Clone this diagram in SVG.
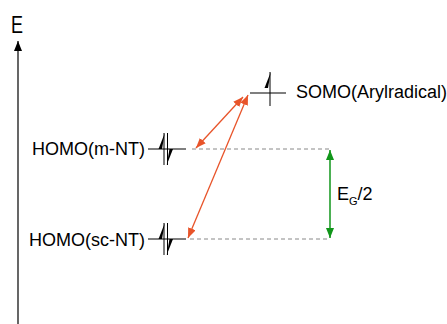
<svg xmlns="http://www.w3.org/2000/svg" width="447" height="324" viewBox="0 0 447 324">
<style>
text{font-family:"Liberation Sans",Arial,sans-serif;fill:#000;font-size:18px}
.lvl{stroke:#000;stroke-width:1.2;fill:none}
.spin{stroke:#000;stroke-width:1;fill:none}
.dash{stroke:#888;stroke-width:1;stroke-dasharray:4,3;fill:none}
.red{stroke:#E8542A;stroke-width:1.3;fill:none}
.grn{stroke:#11961A;stroke-width:1.5;fill:none}
</style>
<defs>
<marker id="ra" viewBox="0 0 10 8" refX="10" refY="4" markerWidth="10" markerHeight="8" markerUnits="userSpaceOnUse" orient="auto-start-reverse"><path d="M0,0 L10,4 L0,8 z" fill="#E8542A"/></marker>
<marker id="ga" viewBox="0 0 10 8" refX="10" refY="4" markerWidth="10" markerHeight="8" markerUnits="userSpaceOnUse" orient="auto-start-reverse"><path d="M0,0 L10,4 L0,8 z" fill="#11961A"/></marker>
<marker id="ka" viewBox="0 0 10 8" refX="10" refY="4" markerWidth="10" markerHeight="8" markerUnits="userSpaceOnUse" orient="auto"><path d="M0,0 L10,4 L0,8 z" fill="#000"/></marker>
</defs>
<g id="axis">
<line x1="18" y1="324" x2="18" y2="41" stroke="#000" stroke-width="1.2" marker-end="url(#ka)"/>
<text transform="translate(11,33) scale(1,1.3)" font-size="18">E</text>
</g>
<g id="connectors">
<line class="dash" x1="192" y1="149" x2="330" y2="149"/>
<line class="dash" x1="190" y1="239" x2="330" y2="239"/>
<line class="red" x1="196" y1="148" x2="243" y2="97" marker-start="url(#ra)" marker-end="url(#ra)"/>
<line class="red" x1="188" y1="238" x2="248" y2="95" marker-start="url(#ra)" marker-end="url(#ra)"/>
<line class="grn" x1="330" y1="150" x2="330" y2="238" marker-start="url(#ga)" marker-end="url(#ga)"/>
</g>
<g id="somo">
<line class="lvl" x1="250" y1="93" x2="286" y2="93"/>
<line class="spin" x1="270" y1="72" x2="270" y2="106"/>
<path d="M270.8,72 L264.5,88 L268,88 Z" fill="#000"/>
<text x="296" y="98">SOMO(Arylradical)</text>
</g>
<g id="homo-mnt">
<line class="lvl" x1="148" y1="149" x2="186" y2="149"/>
<line class="spin" x1="164" y1="133" x2="164" y2="165"/>
<path d="M164.8,133 L158.5,149 L162,149 Z" fill="#000"/>
<line class="spin" x1="167.5" y1="133" x2="167.5" y2="165"/>
<path d="M166.7,165 L173,149 L169.5,149 Z" fill="#000"/>
<text x="32" y="155">HOMO(m-NT)</text>
</g>
<g id="homo-scnt">
<line class="lvl" x1="148" y1="239" x2="186" y2="239"/>
<line class="spin" x1="164" y1="223" x2="164" y2="255"/>
<path d="M164.8,223 L158.5,239 L162,239 Z" fill="#000"/>
<line class="spin" x1="167.5" y1="223" x2="167.5" y2="255"/>
<path d="M166.7,255 L173,239 L169.5,239 Z" fill="#000"/>
<text x="29" y="246">HOMO(sc-NT)</text>
</g>
<g id="eg">
<text x="337" y="200">E<tspan font-size="11" dy="5">G</tspan><tspan dy="-5">/2</tspan></text>
</g>
</svg>
